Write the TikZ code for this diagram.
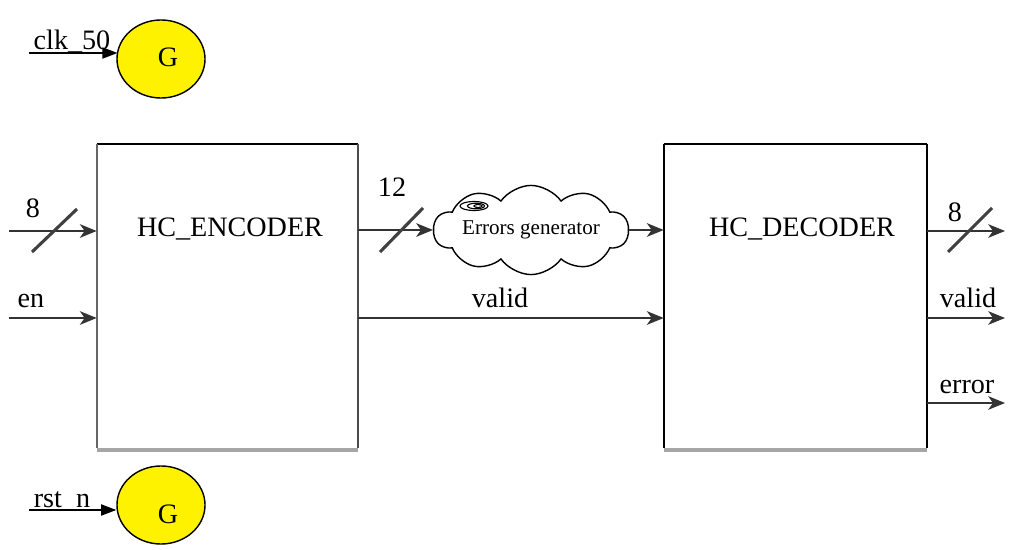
\documentclass[tikz,border=0pt]{standalone}
\usepackage{fontspec}
\setmainfont{Liberation Serif}
\usetikzlibrary{arrows.meta,shapes.symbols,shapes.geometric}
\tikzset{
  lbl/.style={font=\fontsize{20}{24}\selectfont, inner sep=0pt, anchor=base},
  sig/.style={line width=1.3pt, draw=black!80, -{Stealth[length=4.2mm,width=3.4mm,inset=1.2mm]}},
  bus/.style={line width=2.2pt, draw=black!75},
  gen/.style={ellipse, draw=black, line width=1pt, fill=yellow, minimum width=2.2cm, minimum height=1.95cm, inner sep=0pt},
  genin/.style={line width=1pt, -{Triangle[length=3.8mm,width=2.8mm]}},
  blockbox/.style={rectangle, inner sep=0pt},
}
\begin{document}
\begin{tikzpicture}[x=0.025cm, y=-0.025cm]
\useasboundingbox (0,0) rectangle (1012,550);

% clock and reset generators
\node[gen] (gclk) at (161,59) {};
\node[lbl] (gclktxt) at (168,67) {G};
\coordinate (clkin) at (29,53);
\draw[genin] (clkin) -- (117.5,53);
\node[lbl] (clklbl) at (72,50) {clk\_50};

\node[gen] (grst) at (161,505) {};
\node[lbl] (grsttxt) at (168,523) {G};
\coordinate (rstin) at (29,510);
\draw[genin] (rstin) -- (grst.west |- rstin);
\node[lbl] (rstlbl) at (62,507) {rst\_n};

% encoder block
\node[blockbox, minimum width=6.525cm, minimum height=7.6cm] (enc) at (227.5,296) {};
\draw[black, line width=1.3pt] (enc.north west) -- (enc.north east);
\draw[black!60, line width=1.3pt] (enc.north west) -- (enc.south west);
\draw[black!70, line width=1.3pt] (enc.north east) -- (enc.south east);
\draw[black!35, line width=2.6pt] ([yshift=-1pt]enc.south west) -- ([yshift=-1pt]enc.south east);
\node[lbl] (enctxt) at (230,237) {HC\_ENCODER};

% decoder block
\node[blockbox, minimum width=6.575cm, minimum height=7.6cm] (dec) at (795.5,296) {};
\draw[black, line width=1.3pt] (dec.north west) -- (dec.north east);
\draw[black, line width=1.3pt] (dec.north west) -- (dec.south west);
\draw[black, line width=1.3pt] (dec.north east) -- (dec.south east);
\draw[black!35, line width=2.6pt] ([yshift=-1pt]dec.south west) -- ([yshift=-1pt]dec.south east);
\node[lbl] (dectxt) at (802,237) {HC\_DECODER};

% error injection cloud, with a small swirl in its upper-left puff
\node[cloud, draw=black, line width=1pt, cloud puffs=10, cloud puff arc=110, aspect=3.2,
      minimum width=4.7cm, minimum height=1.5cm, inner sep=0pt,
      font=\fontsize{15}{18}\selectfont] (err) at (531,230) {Errors generator};
\draw[line width=0.8pt] (474,206) ellipse [x radius=14, y radius=4.5];
\draw[line width=0.8pt] (476,206) ellipse [x radius=8.5, y radius=2.8];
\draw[line width=0.8pt] (478,206) ellipse [x radius=4, y radius=1.5];

% encoder inputs
\coordinate (din) at (9,231);
\draw[sig] (din) -- (enc.west |- din);
\draw[bus] (32,252) -- (77,209);
\node[lbl] (dinlbl) at (33,218) {8};

\coordinate (enin) at (9,318);
\draw[sig] (enin) -- (enc.west |- enin);
\node[lbl] (enlbl) at (31,307) {en};

% encoder to decoder
\draw[sig] (enc.east |- err.west) -- (err.west);
\draw[bus] (380,252) -- (423,208);
\node[lbl] (codelbl) at (392,197) {12};
\draw[sig] (err.east) -- (dec.west |- err.east);

\draw[sig] (enc.east |- enin) -- (dec.west |- enin);
\node[lbl] (validlbl) at (500,307) {valid};

% decoder outputs
\coordinate (dout) at (1005,231);
\draw[sig] (dec.east |- dout) -- (dout);
\draw[bus] (948,252) -- (992,208);
\node[lbl] (doutlbl) at (955,222) {8};

\coordinate (vout) at (1005,318);
\draw[sig] (dec.east |- vout) -- (vout);
\node[lbl] (voutlbl) at (968,308) {valid};

\coordinate (eout) at (1005,403);
\draw[sig] (dec.east |- eout) -- (eout);
\node[lbl] (eoutlbl) at (967,393) {error};
\end{tikzpicture}
\end{document}
